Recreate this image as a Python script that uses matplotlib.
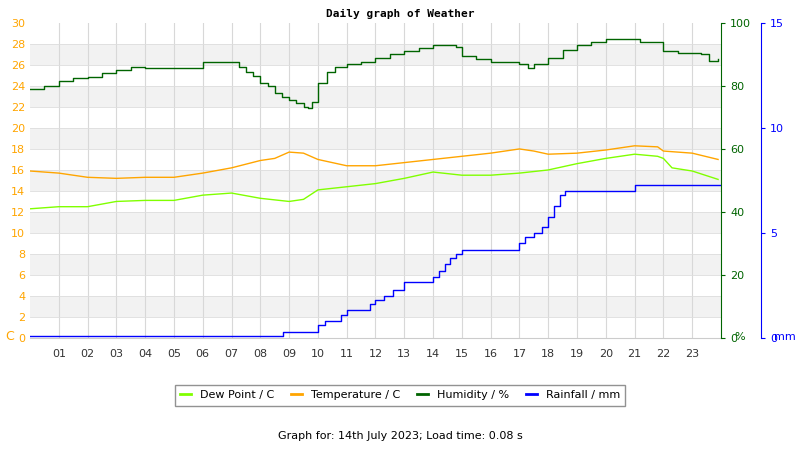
import matplotlib
matplotlib.use("Agg")
import matplotlib.pyplot as plt
from matplotlib.lines import Line2D

hum_t = [0,0.5,1,1.5,2,2.5,3,3.5,4,5,6,6.5,7,7.25,7.5,7.75,8,8.25,8.5,8.75,9,9.25,9.5,9.65,9.8,10,10.3,10.6,11,11.5,12,12.5,13,13.5,14,14.5,14.8,15,15.5,16,16.5,17,17.3,17.5,18,18.5,19,19.5,20,20.5,21,21.2,21.8,22,22.5,23,23.3,23.6,23.9]
hum_v = [79,80,81.6,82.5,83,84,85,86,85.7,85.7,87.6,87.6,87.5,86,84.5,83.3,81,80,77.8,76.5,75.5,74.5,73.3,73,75,81,84.5,86,87,87.5,89,90,91.2,92,93,93,92.5,89.5,88.5,87.5,87.5,87,85.8,87,89,91.5,93,94,95,95,95,94,94,91,90.5,90.5,90,88,88.5]
temp_t = [0,1,2,3,4,5,6,7,8,8.5,9,9.5,10,11,12,13,14,15,16,17,17.5,18,19,20,21,21.8,22,23,23.9]
temp_v = [15.9,15.7,15.3,15.2,15.3,15.3,15.7,16.2,16.9,17.1,17.7,17.6,17.0,16.4,16.4,16.7,17.0,17.3,17.6,18.0,17.8,17.5,17.6,17.9,18.3,18.2,17.8,17.6,17.0]
dew_t = [0,1,2,3,4,5,6,7,8,9,9.5,10,11,12,13,14,15,16,17,18,19,20,21,21.8,22,22.3,23,23.9]
dew_v = [12.3,12.5,12.5,13.0,13.1,13.1,13.6,13.8,13.3,13.0,13.2,14.1,14.4,14.7,15.2,15.8,15.5,15.5,15.7,16.0,16.6,17.1,17.5,17.3,17.1,16.2,15.9,15.1]
rain_t = [0,8.8,10.0,10.25,10.8,11.0,11.8,12.0,12.3,12.6,13.0,14.0,14.2,14.4,14.6,14.8,15.0,17.0,17.2,17.5,17.8,18.0,18.2,18.4,18.6,21.0,24.0]
rain_v = [0.1,0.3,0.6,0.8,1.1,1.35,1.6,1.8,2.0,2.3,2.65,2.9,3.2,3.5,3.8,4.0,4.2,4.5,4.8,5.0,5.3,5.75,6.3,6.8,7.0,7.3,7.3]
hours = list(range(1,24))
hour_labels = [f"{h:02d}" for h in hours]

DEW, TEMP, HUM, RAIN = "#80ff00", "#ffa500", "#006400", "#0000ff"
fig = plt.figure(figsize=(8,4.5), dpi=100)
ax = fig.add_axes([0.0375, 0.249, 0.8637, 0.7])
ax.set_xlim(0,24); ax.set_ylim(0,30)
for y0 in range(2,30,4):
    ax.axhspan(y0, y0+2, color="#f2f2f2", lw=0, zorder=0)
for h in hours:
    ax.axvline(h, color="#d8d8d8", lw=0.8, zorder=0.5)
for y in range(2,30,2):
    ax.axhline(y, color="#dddddd", lw=0.6, zorder=0.5)
ax.plot(temp_t, temp_v, color=TEMP, lw=1)
ax.plot(dew_t, dew_v, color=DEW, lw=1)
ax.set_xticks(hours); ax.set_xticklabels(hour_labels)
ax.set_yticks(range(0,31,2))
ax.tick_params(axis='x', length=0, labelsize=8, colors="#333333", pad=8)
ax.tick_params(axis='y', length=0, labelsize=8, labelcolor=TEMP)
for s in ["top","right","left"]:
    ax.spines[s].set_visible(False)
ax.spines["bottom"].set_color("#cccccc")

ax2 = ax.twinx()
ax2.set_ylim(0,100)
ax2.plot(hum_t, hum_v, color=HUM, lw=1, drawstyle="steps-post")
ax2.set_yticks(range(0,101,20))
ax2.tick_params(axis='y', colors=HUM, labelsize=8, length=3)
for s in ["top","left","bottom"]:
    ax2.spines[s].set_visible(False)
ax2.spines["right"].set_color(HUM)

ax3 = ax.twinx()
ax3.set_ylim(0,15)
ax3.plot(rain_t, rain_v, color=RAIN, lw=1, drawstyle="steps-post")
ax3.spines["right"].set_position(("outward", 29))
ax3.set_yticks([0,5,10,15])
ax3.tick_params(axis='y', colors=RAIN, labelsize=8, length=3)
for s in ["top","left","bottom"]:
    ax3.spines[s].set_visible(False)
ax3.spines["right"].set_color(RAIN)

fig.text(0.5, 0.97, "Daily graph of Weather", ha="center", va="center", family="DejaVu Sans Mono", weight="bold", fontsize=8)
fig.text(0.006, 0.245, "C", color=TEMP, fontsize=9)
fig.text(0.918, 0.245, "%", color=HUM, fontsize=8)
fig.text(0.968, 0.245, "mm", color=RAIN, fontsize=8)
handles = [Line2D([],[],color=c,lw=2) for c in (DEW,TEMP,HUM,RAIN)]
fig.legend(handles, ["Dew Point / C","Temperature / C","Humidity / %","Rainfall / mm"],
           loc="center", bbox_to_anchor=(0.5, 0.122), ncol=4, fontsize=8, frameon=True,
           fancybox=False, edgecolor="#777777", handlelength=1, columnspacing=1.5, borderpad=0.5)
fig.text(0.5, 0.025, "Graph for: 14th July 2023; Load time: 0.08 s", ha="center", fontsize=8)
fig.savefig("out.png")
